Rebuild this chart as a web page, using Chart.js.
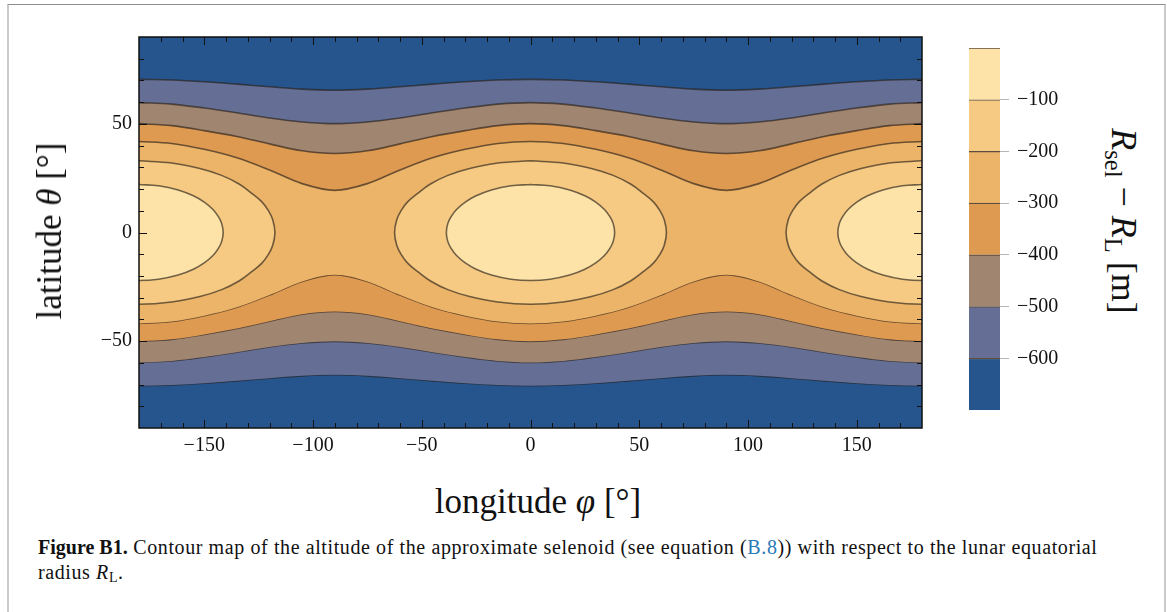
<!DOCTYPE html>
<html>
<head>
<meta charset="utf-8">
<script src="https://cdn.jsdelivr.net/npm/chart.js@4.4.0/dist/chart.umd.min.js"></script>
<style>
  html, body { margin: 0; padding: 0; background: #fff; }
  body { width: 1167px; height: 612px; position: relative; overflow: hidden;
         font-family: "Liberation Serif", "DejaVu Serif", serif; color: #111; }
  .frame { position: absolute; left: 7px; top: 4px; width: 1155px; height: 640px;
           border-top: 1px solid #8c8c8c; border-left: 2px solid #cacaca; border-right: 2px solid #cacaca; }
  #mapBox { position: absolute; left: 0; top: 0; width: 940px; height: 470px; }
  #barBox { position: absolute; left: 940px; top: 0; width: 140px; height: 470px; }
  .axTitle { position: absolute; font-size: 35px; white-space: nowrap; transform-origin: center; }
  .axTitle sub { font-size: 0.68em; vertical-align: -0.25em; font-style: normal; }
  #yTitle { left: 50px; top: 231px; transform: translate(-50%, -50%) rotate(-90deg); }
  #xTitle { left: 538px; top: 502px; transform: translate(-50%, -50%); }
  #cTitle { left: 1122px; top: 221px; font-size: 36px; transform: translate(-50%, -50%) rotate(90deg); }
  .caption { position: absolute; left: 38px; top: 535px; font-size: 20px; line-height: 25px;
             letter-spacing: 0.6px; white-space: nowrap; }
  .caption b { letter-spacing: 0; }
  .caption sub { font-size: 0.7em; vertical-align: -0.2em; }
  .ref { color: #2a7ab8; }
</style>
</head>
<body>
<div class="frame"></div>
<div id="mapBox"><canvas id="map" width="940" height="470"></canvas></div>
<div id="barBox"><canvas id="bar" width="140" height="470"></canvas></div>

<div class="axTitle" id="yTitle">latitude <i>θ</i> [°]</div>
<div class="axTitle" id="xTitle">longitude <i>φ</i> [°]</div>
<div class="axTitle" id="cTitle"><i>R</i><sub>sel</sub> − <i>R</i><sub>L</sub> [m]</div>

<div class="caption"><b>Figure B1.</b> Contour map of the altitude of the approximate selenoid (see equation (<span class="ref">B.8</span>)) with respect to the lunar equatorial<br>radius <i>R</i><sub>L</sub>.</div>

<script>
// longitude samples for the open (latitude band) contours
const lonGrid = [-180, -165, -150, -135, -120, -105, -90, -75, -60, -45, -30, -15, 0,
                 15, 30, 45, 60, 75, 90, 105, 120, 135, 150, 165, 180];

// northern latitude of each open contour; the southern one is its mirror
const lat600 = [70.5, 70.2, 69.4, 68.3, 67.1, 66.0, 65.5, 66.0, 67.1, 68.3, 69.4, 70.2, 70.5,
                70.2, 69.4, 68.3, 67.1, 66.0, 65.5, 66.0, 67.1, 68.3, 69.4, 70.2, 70.5];
const lat500 = [59.8, 59.1, 57.3, 55.1, 52.7, 50.9, 50.1, 50.9, 52.7, 55.1, 57.3, 59.1, 59.8,
                59.1, 57.3, 55.1, 52.7, 50.9, 50.1, 50.9, 52.7, 55.1, 57.3, 59.1, 59.8];
const lat400 = [50.1, 49.2, 46.9, 44.2, 40.8, 37.6, 36.4, 37.6, 40.8, 44.2, 46.9, 49.2, 50.1,
                49.2, 46.9, 44.2, 40.8, 37.6, 36.4, 37.6, 40.8, 44.2, 46.9, 49.2, 50.1];
const lat300 = [41.9, 41.0, 38.3, 34.4, 28.8, 22.5, 19.4, 22.5, 28.8, 34.4, 38.3, 41.0, 41.9,
                41.0, 38.3, 34.4, 28.8, 22.5, 19.4, 22.5, 28.8, 34.4, 38.3, 41.0, 41.9];

// closed contours around the equatorial highs (offset from centre, upper half)
const ring200Lon = [-62.5, -61.5, -59.5, -56.5, -52, -46, -38, -28, -15, 0, 15, 28, 38, 46, 52, 56.5, 59.5, 61.5, 62.5];
const ring200Lat = [0, 5.9, 10.1, 14.1, 17.9, 22.3, 26.3, 29.5, 32.0, 33.0, 32.0, 29.5, 26.3, 22.3, 17.9, 14.1, 10.1, 5.9, 0];
const ring100Lon = [-38.7, -38, -36.5, -34, -30, -25, -18, -9, 0, 9, 18, 25, 30, 34, 36.5, 38, 38.7];
const ring100Lat = [0, 4.2, 7.3, 10.6, 14.0, 16.9, 19.6, 21.5, 22.1, 21.5, 19.6, 16.9, 14.0, 10.6, 7.3, 4.2, 0];
const ringCenters = [-180, 0, 180];

// colour bar levels and tick labels
const colorBreaks = [-700, -600, -500, -400, -300, -200, -100, 0];
const colorTicks = [-600, -500, -400, -300, -200, -100];
const lonTicks = [-150, -100, -50, 0, 50, 100, 150];
const latTicks = [-50, 0, 50];

const bandColors = ['#26548c', '#656f96', '#a08571', '#df9a52', '#ecb468', '#f6ca83', '#fde3a7'];
const contourColor = 'rgba(40, 32, 24, 0.65)';
const serif = '"Liberation Serif", "DejaVu Serif", serif';
const minus = v => String(v).replace('-', '\u2212');

function openCurve(lats, sign) {
  return lonGrid.map((x, i) => ({ x: x, y: sign * lats[i] }));
}

// closed loop starting at the top of the ring, so the seam sits on a flat stretch
function ringLoop(lons, lats, center) {
  const m = (lons.length - 1) / 2;
  const top = lons.map((x, i) => ({ x: center + x, y: lats[i] }));
  const bottom = lons.map((x, i) => ({ x: center + x, y: -lats[i] })).reverse();
  return [...top.slice(m), ...bottom.slice(1), ...top.slice(1, m + 1)];
}

const datasets = [];
[lat600, lat500, lat400, lat300].forEach((lats, k) => {
  const common = {
    borderColor: contourColor, borderWidth: 1.6, pointRadius: 0,
    cubicInterpolationMode: 'monotone', order: 10 - k
  };
  datasets.push({ ...common, data: openCurve(lats, 1), fill: '+1', backgroundColor: bandColors[k + 1] });
  datasets.push({ ...common, data: openCurve(lats, -1), fill: false });
});
[[ring200Lon, ring200Lat, 5], [ring100Lon, ring100Lat, 6]].forEach(([lons, lats, band], k) => {
  ringCenters.forEach(c => {
    datasets.push({
      data: ringLoop(lons, lats, c), fill: 'shape', backgroundColor: bandColors[band],
      borderColor: contourColor, borderWidth: 1.6, pointRadius: 0, tension: 0.4,
      order: 5 - k
    });
  });
});

// plot background plus the inward ticks and frame
const frameTicks = {
  id: 'frameTicks',
  beforeDatasetsDraw(chart) {
    const { ctx, chartArea: a } = chart;
    ctx.save();
    ctx.fillStyle = bandColors[0];
    ctx.fillRect(a.left, a.top, a.width, a.height);
    ctx.restore();
  },
  afterDatasetsDraw(chart) {
    const { ctx, chartArea: a, scales: { x, y } } = chart;
    ctx.save();
    ctx.strokeStyle = '#111';
    ctx.lineWidth = 1;
    ctx.beginPath();
    for (let v = -170; v <= 170; v += 10) {
      const px = Math.round(x.getPixelForValue(v)) + 0.5;
      const len = v % 50 === 0 ? 8 : 5;
      ctx.moveTo(px, a.bottom); ctx.lineTo(px, a.bottom - len);
      ctx.moveTo(px, a.top); ctx.lineTo(px, a.top + len);
    }
    for (let v = -80; v <= 80; v += 10) {
      const py = Math.round(y.getPixelForValue(v)) + 0.5;
      const len = v % 50 === 0 ? 8 : 5;
      ctx.moveTo(a.left, py); ctx.lineTo(a.left + len, py);
      ctx.moveTo(a.right, py); ctx.lineTo(a.right - len, py);
    }
    ctx.stroke();
    ctx.lineWidth = 1.5;
    ctx.strokeRect(a.left, a.top, a.width, a.height);
    ctx.restore();
  }
};

new Chart(document.getElementById('map'), {
  type: 'line',
  data: { datasets: datasets },
  options: {
    responsive: false, animation: false, events: [], devicePixelRatio: 1,
    layout: { padding: { top: 37, right: 18, left: 0, bottom: 0 } },
    elements: { line: { capBezierPoints: false } },
    plugins: { legend: { display: false }, tooltip: { enabled: false } },
    scales: {
      x: {
        type: 'linear', min: -180, max: 180,
        afterBuildTicks: s => { s.ticks = lonTicks.map(v => ({ value: v })); },
        afterFit: s => { s.height = 42; },
        grid: { display: false, drawTicks: false }, border: { display: false },
        ticks: { padding: 6, color: '#111', font: { family: serif, size: 20 }, callback: minus }
      },
      y: {
        type: 'linear', min: -90, max: 90,
        afterBuildTicks: s => { s.ticks = latTicks.map(v => ({ value: v })); },
        afterFit: s => { s.width = 139; },
        grid: { display: false, drawTicks: false }, border: { display: false },
        ticks: { padding: 7, color: '#111', font: { family: serif, size: 20 }, callback: minus }
      }
    }
  },
  plugins: [frameTicks]
});

// colour bar: one floating bar per contour band
new Chart(document.getElementById('bar'), {
  type: 'bar',
  data: {
    labels: [''],
    datasets: bandColors.map((c, i) => ({
      data: [[colorBreaks[i], colorBreaks[i + 1]]],
      backgroundColor: c, borderColor: '#5b4d40',
      borderWidth: { top: 1.2, bottom: 0, left: 0, right: 0 }, borderSkipped: false,
      grouped: false, barPercentage: 1, categoryPercentage: 1
    }))
  },
  options: {
    responsive: false, animation: false, events: [], devicePixelRatio: 1,
    layout: { padding: { top: 48, bottom: 60, left: 29, right: 0 } },
    plugins: { legend: { display: false }, tooltip: { enabled: false } },
    scales: {
      x: { display: false },
      y: {
        position: 'right', min: -700, max: 0,
        afterBuildTicks: s => { s.ticks = colorTicks.map(v => ({ value: v })); },
        afterFit: s => { s.width = 80; },
        grid: { drawOnChartArea: false, drawTicks: true, tickLength: 9, color: '#b5b5b5' },
        border: { display: false },
        ticks: { padding: 8, color: '#111', font: { family: serif, size: 20 }, callback: minus }
      }
    }
  }
});
</script>
</body>
</html>
